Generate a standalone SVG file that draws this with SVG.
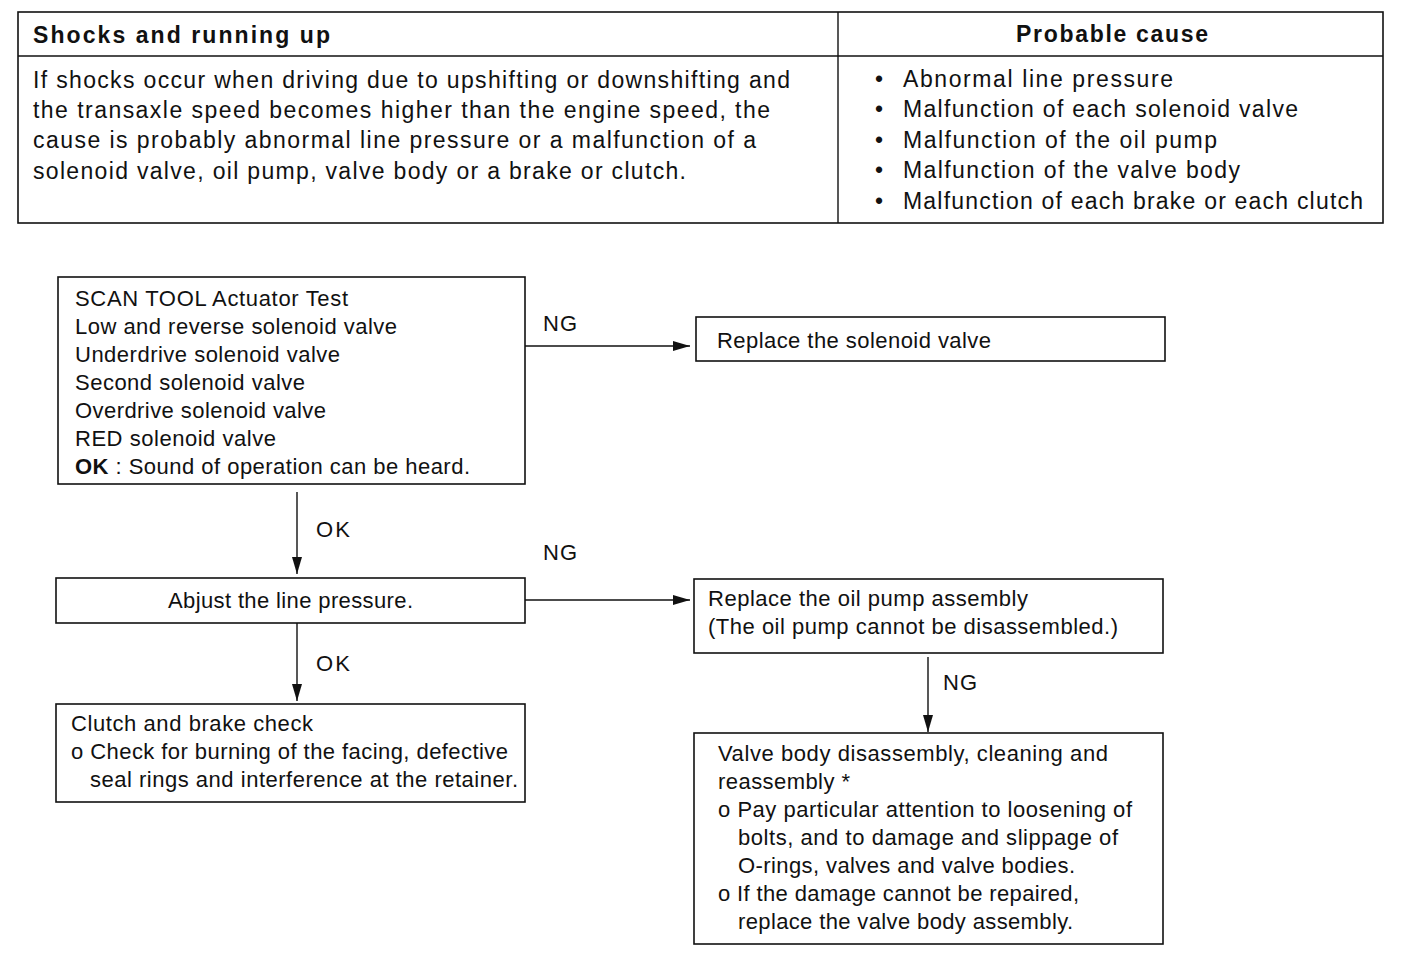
<svg xmlns="http://www.w3.org/2000/svg" width="1408" height="962" viewBox="0 0 1408 962">
<defs>
<style>
.t{font-family:"Liberation Sans",Arial,Helvetica,sans-serif;font-size:22px;fill:#111}
.tb{font-family:"Liberation Sans",Arial,Helvetica,sans-serif;font-size:23px;fill:#111}
.h{font-family:"Liberation Sans",Arial,Helvetica,sans-serif;font-size:23px;font-weight:bold;fill:#111}
.box{fill:#fff;stroke:#111;stroke-width:1.6}
.ln{fill:none;stroke:#111;stroke-width:1.4}
</style>
<marker id="arr" markerWidth="18" markerHeight="12" refX="17" refY="6" orient="auto" markerUnits="userSpaceOnUse">
<path d="M0,1 L17,6 L0,11 Z" fill="#111"/>
</marker>
</defs>
<rect width="1408" height="962" fill="#fff"/>

<g id="table">
<rect x="18" y="12" width="1365" height="211" class="box"/>
<line x1="18" y1="56" x2="1383" y2="56" class="ln" stroke-width="1.6"/>
<line x1="838" y1="12" x2="838" y2="223" class="ln" stroke-width="1.6"/>
<text x="33" y="43" class="h" textLength="297">Shocks and running up</text>
<text x="1016" y="42" class="h" textLength="192">Probable cause</text>
<text x="33" y="88" class="tb" textLength="757">If shocks occur when driving due to upshifting or downshifting and</text>
<text x="33" y="118" class="tb" textLength="737">the transaxle speed becomes higher than the engine speed, the</text>
<text x="33" y="148" class="tb" textLength="723">cause is probably abnormal line pressure or a malfunction of a</text>
<text x="33" y="179" class="tb" textLength="653">solenoid valve, oil pump, valve body or a brake or clutch.</text>
<text x="875" y="87" class="tb">•</text>
<text x="875" y="117" class="tb">•</text>
<text x="875" y="148" class="tb">•</text>
<text x="875" y="178" class="tb">•</text>
<text x="875" y="209" class="tb">•</text>
<text x="903" y="87" class="tb" textLength="270">Abnormal line pressure</text>
<text x="903" y="117" class="tb" textLength="395">Malfunction of each solenoid valve</text>
<text x="903" y="148" class="tb" textLength="314">Malfunction of the oil pump</text>
<text x="903" y="178" class="tb" textLength="337">Malfunction of the valve body</text>
<text x="903" y="209" class="tb" textLength="460">Malfunction of each brake or each clutch</text>
</g>

<g id="connectors">
<line x1="525" y1="346" x2="690" y2="346" class="ln" marker-end="url(#arr)"/>
<text x="543" y="331" class="t" textLength="34">NG</text>
<line x1="297" y1="492" x2="297" y2="574" class="ln" marker-end="url(#arr)"/>
<text x="316" y="537" class="t" textLength="34">OK</text>
<line x1="525" y1="600" x2="690" y2="600" class="ln" marker-end="url(#arr)"/>
<text x="543" y="560" class="t" textLength="34">NG</text>
<line x1="297" y1="623" x2="297" y2="701" class="ln" marker-end="url(#arr)"/>
<text x="316" y="671" class="t" textLength="34">OK</text>
<line x1="928" y1="657" x2="928" y2="732" class="ln" marker-end="url(#arr)"/>
<text x="943" y="690" class="t" textLength="34">NG</text>
</g>

<g id="scan-tool-test">
<rect x="58" y="277" width="467" height="207" class="box"/>
<text x="75" y="306" class="t" textLength="273">SCAN TOOL Actuator Test</text>
<text x="75" y="334" class="t" textLength="322">Low and reverse solenoid valve</text>
<text x="75" y="362" class="t" textLength="265">Underdrive solenoid valve</text>
<text x="75" y="390" class="t" textLength="230">Second solenoid valve</text>
<text x="75" y="418" class="t" textLength="251">Overdrive solenoid valve</text>
<text x="75" y="446" class="t" textLength="201">RED solenoid valve</text>
<text x="75" y="474" class="t" textLength="395"><tspan font-weight="bold">OK</tspan> : Sound of operation can be heard.</text>
</g>

<g id="replace-solenoid">
<rect x="696" y="317" width="469" height="44" class="box"/>
<text x="717" y="348" class="t" textLength="274">Replace the solenoid valve</text>
</g>

<g id="adjust-line-pressure">
<rect x="56" y="578" width="469" height="45" class="box"/>
<text x="168" y="608" class="t" textLength="245">Abjust the line pressure.</text>
</g>

<g id="replace-oil-pump">
<rect x="694" y="579" width="469" height="74" class="box"/>
<text x="708" y="606" class="t" textLength="320">Replace the oil pump assembly</text>
<text x="708" y="634" class="t" textLength="410">(The oil pump cannot be disassembled.)</text>
</g>

<g id="clutch-brake-check">
<rect x="56" y="704" width="469" height="98" class="box"/>
<text x="71" y="731" class="t" textLength="242">Clutch and brake check</text>
<text x="71" y="759" class="t" textLength="437">o Check for burning of the facing, defective</text>
<text x="90" y="787" class="t" textLength="428">seal rings and interference at the retainer.</text>
</g>

<g id="valve-body">
<rect x="694" y="733" width="469" height="211" class="box"/>
<text x="718" y="761" class="t" textLength="390">Valve body disassembly, cleaning and</text>
<text x="718" y="789" class="t" textLength="132">reassembly *</text>
<text x="718" y="817" class="t" textLength="414">o Pay particular attention to loosening of</text>
<text x="738" y="845" class="t" textLength="380">bolts, and to damage and slippage of</text>
<text x="738" y="873" class="t" textLength="337">O-rings, valves and valve bodies.</text>
<text x="718" y="901" class="t" textLength="361">o If the damage cannot be repaired,</text>
<text x="738" y="929" class="t" textLength="335">replace the valve body assembly.</text>
</g>
</svg>
